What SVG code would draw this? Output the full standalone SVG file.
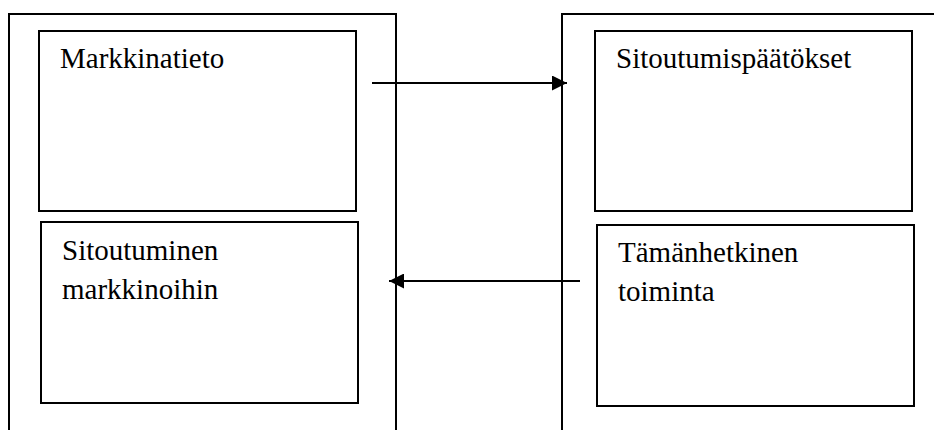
<svg xmlns="http://www.w3.org/2000/svg" width="934" height="430" viewBox="0 0 934 430">
<style>
.box{fill:none;stroke:#000;stroke-width:2}
.inner{fill:#fff;stroke:#000;stroke-width:2}
.c{stroke:#000;stroke-width:2.2;fill:none}
</style>
<defs>
<marker id="ah" viewBox="0 0 10 10" refX="10" refY="5" markerWidth="15" markerHeight="15" markerUnits="userSpaceOnUse" orient="auto">
<path d="M0,0 L10,5 L0,10 Z" fill="#000"/>
</marker>
</defs>
<rect width="934" height="430" fill="#fff"/>
<g id="left-panel">
<rect class="box" x="9" y="14" width="387" height="440"/>
</g>
<g id="right-panel">
<rect class="box" x="562" y="14" width="400" height="440"/>
</g>
<g font-family="'Liberation Serif', 'Times New Roman', serif" font-size="29" fill="#000">
<g id="markkinatieto">
<rect class="inner" x="39" y="31" width="317" height="180"/>
<text x="60" y="68">Markkinatieto</text>
</g>
<g id="sitoutuminen">
<rect class="inner" x="41" y="222" width="317" height="181"/>
<text x="62" y="260">Sitoutuminen</text>
<text x="62" y="299">markkinoihin</text>
</g>
<g id="sitoutumispaatokset">
<rect class="inner" x="595" y="31" width="317" height="180"/>
<text x="616" y="68">Sitoutumispäätökset</text>
</g>
<g id="tamanhetkinen">
<rect class="inner" x="597" y="225" width="317" height="181"/>
<text x="618" y="262">Tämänhetkinen</text>
<text x="618" y="301">toiminta</text>
</g>
</g>
<g id="connectors">
<line class="c" x1="372" y1="83" x2="567" y2="83" marker-end="url(#ah)"/>
<line class="c" x1="580" y1="281" x2="389" y2="281" marker-end="url(#ah)"/>
</g>
</svg>
